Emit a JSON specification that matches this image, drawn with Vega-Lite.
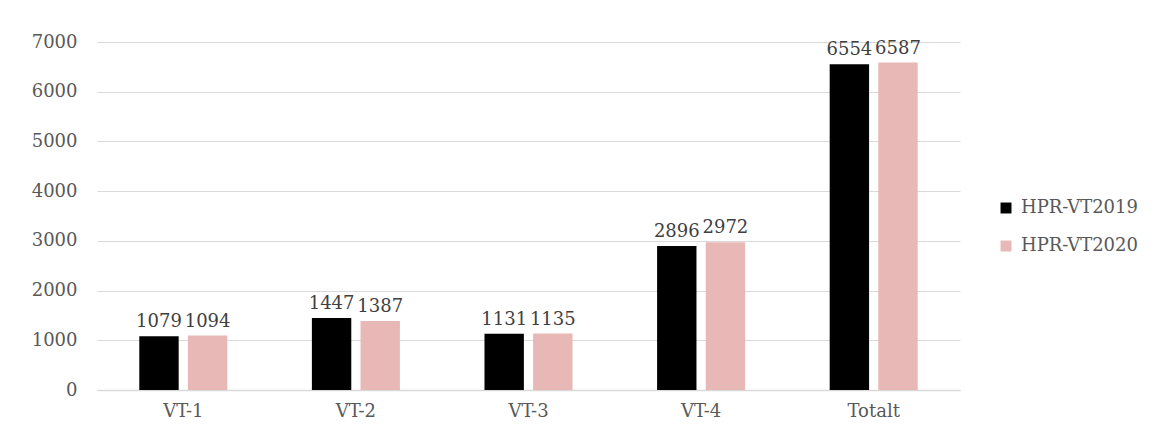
{
  "$schema": "https://vega.github.io/schema/vega-lite/v6.json",
  "width": 863,
  "height": 348,
  "autosize": {"type": "none"},
  "padding": {"left": 97, "top": 42, "right": 201, "bottom": 46},
  "background": "white",
  "config": {
    "view": {"stroke": null},
    "font": "DejaVu Serif"
  },
  "data": {
    "values": [
      {"kategori": "VT-1", "serie": "HPR-VT2019", "antal": 1079},
      {"kategori": "VT-1", "serie": "HPR-VT2020", "antal": 1094},
      {"kategori": "VT-2", "serie": "HPR-VT2019", "antal": 1447},
      {"kategori": "VT-2", "serie": "HPR-VT2020", "antal": 1387},
      {"kategori": "VT-3", "serie": "HPR-VT2019", "antal": 1131},
      {"kategori": "VT-3", "serie": "HPR-VT2020", "antal": 1135},
      {"kategori": "VT-4", "serie": "HPR-VT2019", "antal": 2896},
      {"kategori": "VT-4", "serie": "HPR-VT2020", "antal": 2972},
      {"kategori": "Totalt", "serie": "HPR-VT2019", "antal": 6554},
      {"kategori": "Totalt", "serie": "HPR-VT2020", "antal": 6587}
    ]
  },
  "encoding": {
    "x": {
      "field": "kategori",
      "type": "nominal",
      "sort": null,
      "scale": {"paddingInner": 0.49, "paddingOuter": 0.245},
      "axis": {
        "title": null,
        "labelAngle": 0,
        "labelFontSize": 18,
        "labelColor": "#595959",
        "labelPadding": 12,
        "ticks": false,
        "domainColor": "#d9d9d9",
        "domainWidth": 1.5
      }
    },
    "xOffset": {
      "field": "serie",
      "type": "nominal",
      "scale": {"paddingInner": 0.19}
    },
    "y": {
      "field": "antal",
      "type": "quantitative",
      "scale": {"domain": [0, 7000]},
      "axis": {
        "title": null,
        "values": [0, 1000, 2000, 3000, 4000, 5000, 6000, 7000],
        "format": "d",
        "labelFontSize": 18,
        "labelColor": "#595959",
        "labelPadding": 20,
        "ticks": false,
        "domain": false,
        "gridColor": "#d9d9d9",
        "gridWidth": 1.2
      }
    }
  },
  "layer": [
    {
      "mark": {"type": "bar"},
      "encoding": {
        "color": {
          "field": "serie",
          "type": "nominal",
          "scale": {"domain": ["HPR-VT2019", "HPR-VT2020"], "range": ["#000000", "#e8b8b6"]},
          "legend": {
            "title": null,
            "orient": "none",
            "legendX": 900,
            "legendY": 157,
            "symbolType": "square",
            "symbolSize": 120,
            "symbolStrokeWidth": 0,
            "labelFontSize": 18,
            "labelColor": "#595959",
            "rowPadding": 20,
            "labelOffset": 6
          }
        }
      }
    },
    {
      "mark": {"type": "text", "baseline": "bottom", "dy": -5, "fontSize": 18, "color": "#404040"},
      "encoding": {
        "text": {"field": "antal", "type": "quantitative", "format": "d"}
      }
    }
  ]
}
